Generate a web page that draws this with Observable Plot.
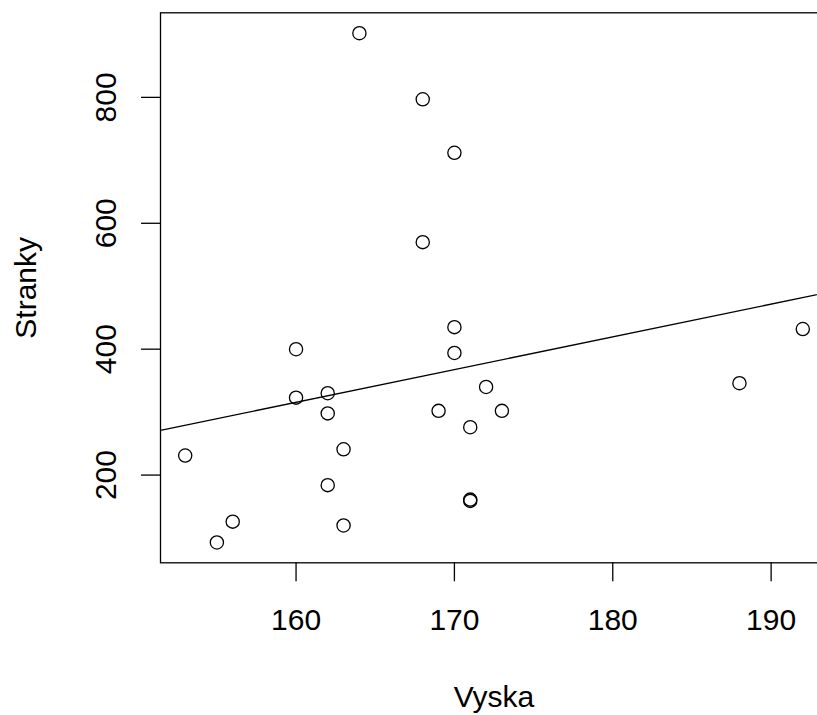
<!DOCTYPE html>
<html><head><meta charset="utf-8">
<script src="https://cdn.jsdelivr.net/npm/d3@7"></script>
<script src="https://cdn.jsdelivr.net/npm/@observablehq/plot@0.6"></script>
<style>body{margin:0;background:#fff} #chart svg{overflow:hidden;display:block}</style>
</head><body><div id="chart"></div>
<script>
const vyska   = [153,155,156,160,160,162,162,162,163,163,164,168,168,169,170,170,170,171,171,171,172,173,188,192];
const stranky = [231, 93,126,400,323,330,298,184,241,120,902,797,570,302,712,435,394,276,161,159,340,302,346,432];
const xTicks = [160,170,180,190];
const yTicks = [200,400,600,800];
const xLabel = "Vyska";
const yLabel = "Stranky";

const data = vyska.map((v,i)=>({x:v, y:stranky[i]}));
const pad = ([a,b]) => { const r=b-a; return [a-0.04*r, b+0.04*r]; };
const xd = pad(d3.extent(vyska));
const yd = pad(d3.extent(stranky));
// least squares fit (abline(lm(Stranky ~ Vyska)))
const mx = d3.mean(vyska), my = d3.mean(stranky);
const sxy = d3.sum(data, d => (d.x-mx)*(d.y-my));
const sxx = d3.sum(data, d => (d.x-mx)**2);
const slope = sxy/sxx, icpt = my - slope*mx;
const fit = xd.map(x => ({x, y: icpt + slope*x}));

const font = "Liberation Sans, Arial, sans-serif";
const chart = Plot.plot({
  width: 817, height: 715,
  marginLeft: 160, marginRight: -10, marginTop: 12.3, marginBottom: 152.7,
  x: {domain: xd, range: [160, 827]},
  y: {domain: yd, range: [562.3, 12.3]},
  style: {fontFamily: font, fontSize: "30px", color: "black", background: "white", overflow: "hidden"},
  marks: [
    Plot.frame({stroke: "black", strokeWidth: 1.3}),
    Plot.axisX({ticks: xTicks, tickSize: 19, tickPadding: 27, strokeWidth: 1.3, fontSize: 30, label: null, tickFormat: d => String(d)}),
    Plot.axisY({ticks: yTicks, tickSize: 19, tickPadding: 26, strokeWidth: 1.3, fontSize: 30, label: null,
      tickRotate: -90, textAnchor: "middle", lineAnchor: "bottom", tickFormat: d => String(d)}),
    Plot.text([xLabel], {frameAnchor: "bottom", dy: 144.2, lineAnchor: "bottom", fontSize: 30, text: d => d}),
    Plot.text([yLabel], {frameAnchor: "left", dx: -125, rotate: -90, lineAnchor: "bottom", textAnchor: "middle", fontSize: 30, text: d => d}),
    Plot.line(fit, {x: "x", y: "y", stroke: "black", strokeWidth: 1.3, clip: true}),
    Plot.dot(data, {x: "x", y: "y", r: 6.6, stroke: "black", strokeWidth: 1.3, fill: "none"})
  ]
});
document.getElementById("chart").append(chart);
</script>
</body></html>
